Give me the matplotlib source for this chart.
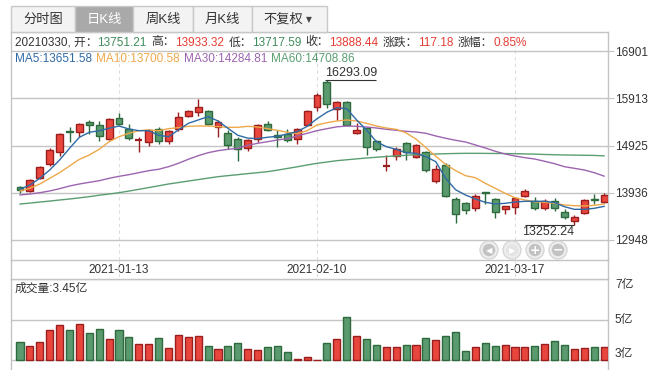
import matplotlib
matplotlib.use('Agg')
import matplotlib.pyplot as plt
from matplotlib.patches import Rectangle, Circle
from matplotlib.lines import Line2D
import numpy as np

plt.rcParams['font.family'] = ['Liberation Sans', 'Noto Sans CJK SC', 'DejaVu Sans']

# ---------------- data ----------------
opens = [14051, 13967, 14239, 14532, 14784, 15229, 15202, 15418, 15348, 15068,
         15495, 15278, 15026, 14993, 15278, 15026, 15265, 15537, 15621, 15642,
         15313, 15181, 15056, 14867, 15068, 15369, 15139, 15160, 15062, 15348,
         15738, 16250, 15690, 15836, 15181, 15286, 15014, 14497, 14700, 14972,
         14679, 14784, 14177, 14511, 13800, 13716, 13611, 13946, 13800, 13591,
         13632, 13863, 13758, 13611, 13758, 13528, 13339, 13507, 13800, 13751.21]
highs = [14085, 14231, 14490, 14867, 15181, 15319, 15390, 15453, 15432, 15495,
         15600, 15369, 15110, 15278, 15319, 15250, 15621, 15663, 15893, 15663,
         15453, 15250, 15110, 15056, 15369, 15432, 15250, 15265, 15286, 15663,
         16031, 16293.09, 15857, 15857, 15390, 15319, 15041, 14721, 14888, 14993,
         14951, 14805, 14511, 14553, 13848, 13737, 13905, 13955, 13821, 13670,
         13842, 14009, 13842, 13800, 13821, 13590, 13465, 13800, 13905, 13933.32]
lows = [13938, 13960, 14231, 14497, 14712, 14993, 15098, 15167, 15020, 15035,
        15348, 15035, 14784, 14909, 14951, 14957, 15236, 15516, 15537, 15348,
        15110, 14859, 14608, 14805, 15005, 15223, 14901, 14993, 14951, 15327,
        15648, 15711, 15460, 15334, 15160, 14721, 14805, 14398, 14616, 14622,
        14658, 14365, 14135, 13850, 13310, 13486, 13549, 13708, 13402, 13486,
        13486, 13842, 13570, 13570, 13549, 13381, 13252.24, 13486, 13695, 13717.59]
closes = [13995, 14197, 14470.68, 14832, 15160, 15202, 15369, 15348, 15118, 15474,
          15369, 15077, 15041, 15257, 15014, 15236, 15516, 15642, 15725, 15369,
          15411, 14930, 14846, 15035, 15348, 15244, 15110, 15035, 15265, 15642,
          15983, 15794, 15830, 15348, 15244, 14888, 14846, 14511, 14859, 14784,
          14930, 14419, 14428, 13863, 13486, 13570, 13863, 13925, 13528, 13653,
          13821, 13967, 13611, 13758, 13611, 13423, 13423, 13779, 13779, 13888.44]
ma5 = [14009, 14099, 14239, 14413, 14622, 14867, 15098, 15202, 15236, 15286,
       15334, 15271, 15236, 15236, 15140, 15110, 15250, 15390, 15460, 15530,
       15439, 15286, 15140, 15080, 15070, 15098, 15118, 15167, 15215, 15325,
       15485, 15622, 15717, 15696, 15460, 15250, 15005, 14901, 14846, 14775,
       14762, 14692, 14587, 14239, 14000, 13890, 13806, 13737, 13702, 13716,
       13743, 13758, 13758, 13758, 13730, 13645, 13590, 13590, 13611, 13651.58]
ma10 = [13974, 14030, 14120, 14239, 14357, 14497, 14637, 14727, 14846, 15005,
        15110, 15181, 15236, 15250, 15236, 15278, 15299, 15327, 15334, 15334,
        15320, 15306, 15306, 15327, 15313, 15278, 15244, 15202, 15173, 15236,
        15355, 15403, 15439, 15460, 15439, 15390, 15334, 15292, 15265, 15190,
        15060, 14880, 14700, 14530, 14400, 14294, 14252, 14135, 14030, 13925,
        13833, 13785, 13750, 13737, 13716, 13681, 13666, 13660, 13674, 13700.58]
ma30 = [13890, 13911, 13938, 13974, 14022, 14078, 14120, 14155, 14189, 14239,
        14281, 14315, 14357, 14399, 14428, 14482, 14553, 14637, 14712, 14775,
        14817, 14846, 14867, 14930, 14972, 15005, 15041, 15068, 15125, 15181,
        15236, 15278, 15316, 15334, 15327, 15313, 15292, 15265, 15244, 15223,
        15209, 15181, 15125, 15077, 15035, 14999, 14937, 14874, 14805, 14748,
        14706, 14671, 14643, 14595, 14545, 14482, 14448, 14413, 14357, 14284.81]
ma60 = [13701, 13720, 13742, 13763, 13785, 13806, 13830, 13855, 13885, 13910,
        13938, 13972, 14008, 14045, 14082, 14120, 14150, 14182, 14212, 14243,
        14273, 14295, 14315, 14337, 14357, 14378, 14410, 14445, 14480, 14518,
        14553, 14580, 14608, 14627, 14646, 14664, 14680, 14695, 14708, 14721,
        14733, 14740, 14748, 14754, 14759, 14762, 14762, 14761, 14759, 14757,
        14754, 14750, 14745, 14738, 14732, 14727, 14724, 14721, 14718, 14708.86]
volumes = [3.89, 3.68, 3.89, 4.46, 4.71, 4.46, 4.80, 4.32, 4.51, 4.02,
           4.46, 4.12, 3.78, 3.78, 4.07, 3.59, 4.22, 4.12, 4.17, 3.68,
           3.54, 3.68, 3.83, 3.54, 3.49, 3.63, 3.68, 3.39, 3.05, 3.15,
           3.02, 3.83, 4.02, 5.10, 4.17, 4.02, 3.73, 3.63, 3.63, 3.73,
           3.73, 4.07, 3.98, 4.17, 4.37, 3.44, 3.63, 3.83, 3.68, 3.73,
           3.63, 3.63, 3.68, 3.78, 3.93, 3.73, 3.54, 3.59, 3.63, 3.63]
last_date = '20210330'
prev_close = 13771.26
change_pct = '0.85%'
last_volume_text = '3.45亿'
price_ticks = [12948, 13936, 14925, 15913, 16901]
vol_ticks = [3, 5, 7]
vol_tick_labels = ['3亿', '5亿', '7亿']
date_tick_idx = [10, 30, 50]
date_tick_labels = ['2021-01-13', '2021-02-10', '2021-03-17']
tabs = ['分时图', '日K线', '周K线', '月K线', '不复权']

# ---------------- style ----------------
RED_F, RED_E = '#e8453c', '#9a1e1e'
GRN_F, GRN_E = '#5b9a6f', '#2d6a3c'
C_MA5, C_MA10, C_MA30, C_MA60 = '#2f6aa5', '#eea84a', '#9c64b0', '#5a9e72'
GRID = '#c4c4c4'
TXT = '#333333'
VRED, VGRN = '#e53d33', '#3f8c5c'
FS = 8.5

W, H = 666, 370
fig = plt.figure(figsize=(6.66, 3.70), dpi=100)
fig.patch.set_facecolor('white')

def fx(x):
    return x / W

def fy(y):
    return 1 - y / H

# price axes
ax = fig.add_axes([fx(11), fy(260), fx(608) - fx(11), fy(32) - fy(260)])
slope = 2965 / 141.67
ax.set_ylim(12948 - 20 * slope, 12948 + 208 * slope)
ax.set_xlim((11 - 20) / 9.9, (608 - 20) / 9.9)

n = len(closes)
x = np.arange(n)
bw = 0.7
min_body = slope * 1.0
for i in range(n):
    up = closes[i] >= opens[i]
    fc, ec = (RED_F, RED_E) if up else (GRN_F, GRN_E)
    ax.vlines(x[i], lows[i], highs[i], color=ec, lw=1.0, zorder=3)
    lo = min(opens[i], closes[i])
    h = abs(closes[i] - opens[i])
    if h < min_body:
        ax.hlines((opens[i] + closes[i]) / 2, x[i] - bw / 2, x[i] + bw / 2, color=ec, lw=1.6, zorder=4)
    else:
        ax.add_patch(Rectangle((x[i] - bw / 2, lo), bw, h, facecolor=fc, edgecolor=ec, lw=1.0, zorder=4))

ax.plot(x, ma60, color=C_MA60, lw=1.0, zorder=5)
ax.plot(x, ma30, color=C_MA30, lw=1.0, zorder=5)
ax.plot(x, ma10, color=C_MA10, lw=1.0, zorder=5)
ax.plot(x, ma5, color=C_MA5, lw=1.0, zorder=5)

ax.yaxis.tick_right()
ax.set_yticks(price_ticks)
ax.set_yticklabels([str(t) for t in price_ticks])
ax.tick_params(axis='y', length=4, color=GRID, labelsize=FS, labelcolor=TXT, pad=1)
ax.set_xticks(date_tick_idx)
ax.set_xticklabels(date_tick_labels)
ax.tick_params(axis='x', length=0, labelsize=FS, labelcolor=TXT, pad=3)
ax.grid(axis='y', color=GRID, lw=1.0, zorder=0)
ax.grid(axis='x', color='#dddddd', lw=0.8, ls=(0, (3, 3)), zorder=0)
ax.set_axisbelow(True)
for s in ax.spines.values():
    s.set_color(GRID)
    s.set_linewidth(1.0)

# high / low annotations
hi_i = int(np.argmax(highs))
lo_i = int(np.argmin(lows))
ax.hlines(highs[hi_i], x[hi_i] - 0.15, x[hi_i] + 4.95, color=TXT, lw=0.8, zorder=6)
ax.annotate(f'{highs[hi_i]:.2f}', (x[hi_i] - 0.15, highs[hi_i]), xytext=(0, 0.5),
            textcoords='offset points', ha='left', va='bottom', fontsize=9, color=TXT, zorder=6)
ax.hlines(lows[lo_i], x[lo_i] - 5.0, x[lo_i], color=TXT, lw=0.8, zorder=6)
ax.annotate(f'{lows[lo_i]:.2f}', (x[lo_i], lows[lo_i]), xytext=(-0.5, -0.5),
            textcoords='offset points', ha='right', va='top', fontsize=9, color=TXT, zorder=6)

# volume axes
vax = fig.add_axes([fx(11), fy(370), fx(608) - fx(11), fy(279) - fy(370)])
vax.set_xlim(ax.get_xlim())
vax.set_ylim(3 - 10 / 20.25, 7)
vcols = [(RED_F, RED_E) if closes[i] >= opens[i] else (GRN_F, GRN_E) for i in range(n)]
vax.bar(x, np.array(volumes) - 3, bottom=3, width=0.72,
        color=[c[0] for c in vcols], edgecolor=[c[1] for c in vcols], lw=1.0, zorder=3)
vax.yaxis.tick_right()
vax.set_yticks(vol_ticks)
vax.set_yticklabels(vol_tick_labels)
vax.tick_params(axis='y', length=0, labelsize=FS, labelcolor=TXT, pad=5)
for lbl, va in zip(vax.get_yticklabels(), ['bottom', 'center', 'top']):
    lbl.set_va(va)
vax.set_xticks([])
vax.grid(axis='y', color=GRID, lw=1.0, zorder=0)
vax.set_axisbelow(True)
for k, s in vax.spines.items():
    s.set_color(GRID)
    s.set_linewidth(1.0)
vax.spines['bottom'].set_visible(False)

# overlay for decorations
ov = fig.add_axes([0, 0, 1, 1], zorder=10)
ov.set_xlim(0, W)
ov.set_ylim(H, 0)
ov.axis('off')
ov.patch.set_alpha(0)

# date row borders
for xv in (11, 608):
    ov.add_line(Line2D([xv, xv], [260, 279], color=GRID, lw=1.0))
for i in date_tick_idx:
    px = 20 + 9.9 * i
    ov.add_line(Line2D([px, px], [260, 279], color='#dddddd', lw=0.8, ls=(0, (3, 3))))

# tabs
tab_edges = [11, 75, 133.3, 193.3, 251.7, 326.7]
for k, lab in enumerate(tabs):
    x0, x1 = tab_edges[k], tab_edges[k + 1]
    sel = (k == 1)
    ov.add_patch(Rectangle((x0, 6), x1 - x0, 26, facecolor='#a9a9a9' if sel else '#f3f3f3',
                           edgecolor='#c8c8c8', lw=1.0))
    cx = (x0 + x1) / 2
    if k == 4:
        ov.text(cx - 6, 19.5, lab, ha='center', va='center', fontsize=9.5, color=TXT)
        ov.text(cx + 20, 19.5, '▼', ha='center', va='center', fontsize=5.5, color='#444444',
                family='DejaVu Sans')
    else:
        ov.text(cx, 19.5, lab, ha='center', va='center', fontsize=9.5,
                color='white' if sel else TXT)

renderer = fig.canvas.get_renderer()

def runs(x0, y0, parts, size):
    xc = x0
    for text, color, gap in parts:
        t = ov.text(xc, y0, text, color=color, fontsize=size, va='center', ha='left')
        bb = t.get_window_extent(renderer)
        xc += bb.width + gap

runs(15, 42.5, [(f'{last_date}, 开：', TXT, 0), (f'{opens[-1]:.2f}', VGRN, 4.5),
                ('高：', TXT, 0), (f'{highs[-1]:.2f}', VRED, 4.5),
                ('低：', TXT, 0), (f'{lows[-1]:.2f}', VGRN, 4.5),
                ('收：', TXT, 0), (f'{closes[-1]:.2f}', VRED, 4.5),
                ('涨跌：', TXT, 0), (f'{closes[-1] - prev_close:.2f}', VRED, 4.5),
                ('涨幅：', TXT, 0), (change_pct, VRED, 0)], FS)
runs(15, 59.5, [(f'MA5:{ma5[-1]:.2f}', C_MA5, 4), (f'MA10:{ma10[-1]:.2f}', C_MA10, 4),
                (f'MA30:{ma30[-1]:.2f}', C_MA30, 4), (f'MA60:{ma60[-1]:.2f}', C_MA60, 0)], FS)
ov.text(15, 289, f'成交量:{last_volume_text}', fontsize=FS, color=TXT, va='center', ha='left')

# navigation buttons
for bx, glyph, light in [(489, '◀', False), (512, '▶', True), (535, '+', False), (558, '−', False)]:
    ov.add_patch(Circle((bx, 250), 9, facecolor='#eeeeee', edgecolor='#d6d6d6', lw=1.0))
    ov.add_patch(Circle((bx, 250), 6.2, facecolor='#e4e4e4' if light else '#c2c2c2', edgecolor='none'))
    ov.text(bx, 250.5, glyph, ha='center', va='center', fontsize=6 if glyph in '◀▶' else 9,
            color='white', family='DejaVu Sans', fontweight='bold')

fig.savefig('out.png', dpi=100)
